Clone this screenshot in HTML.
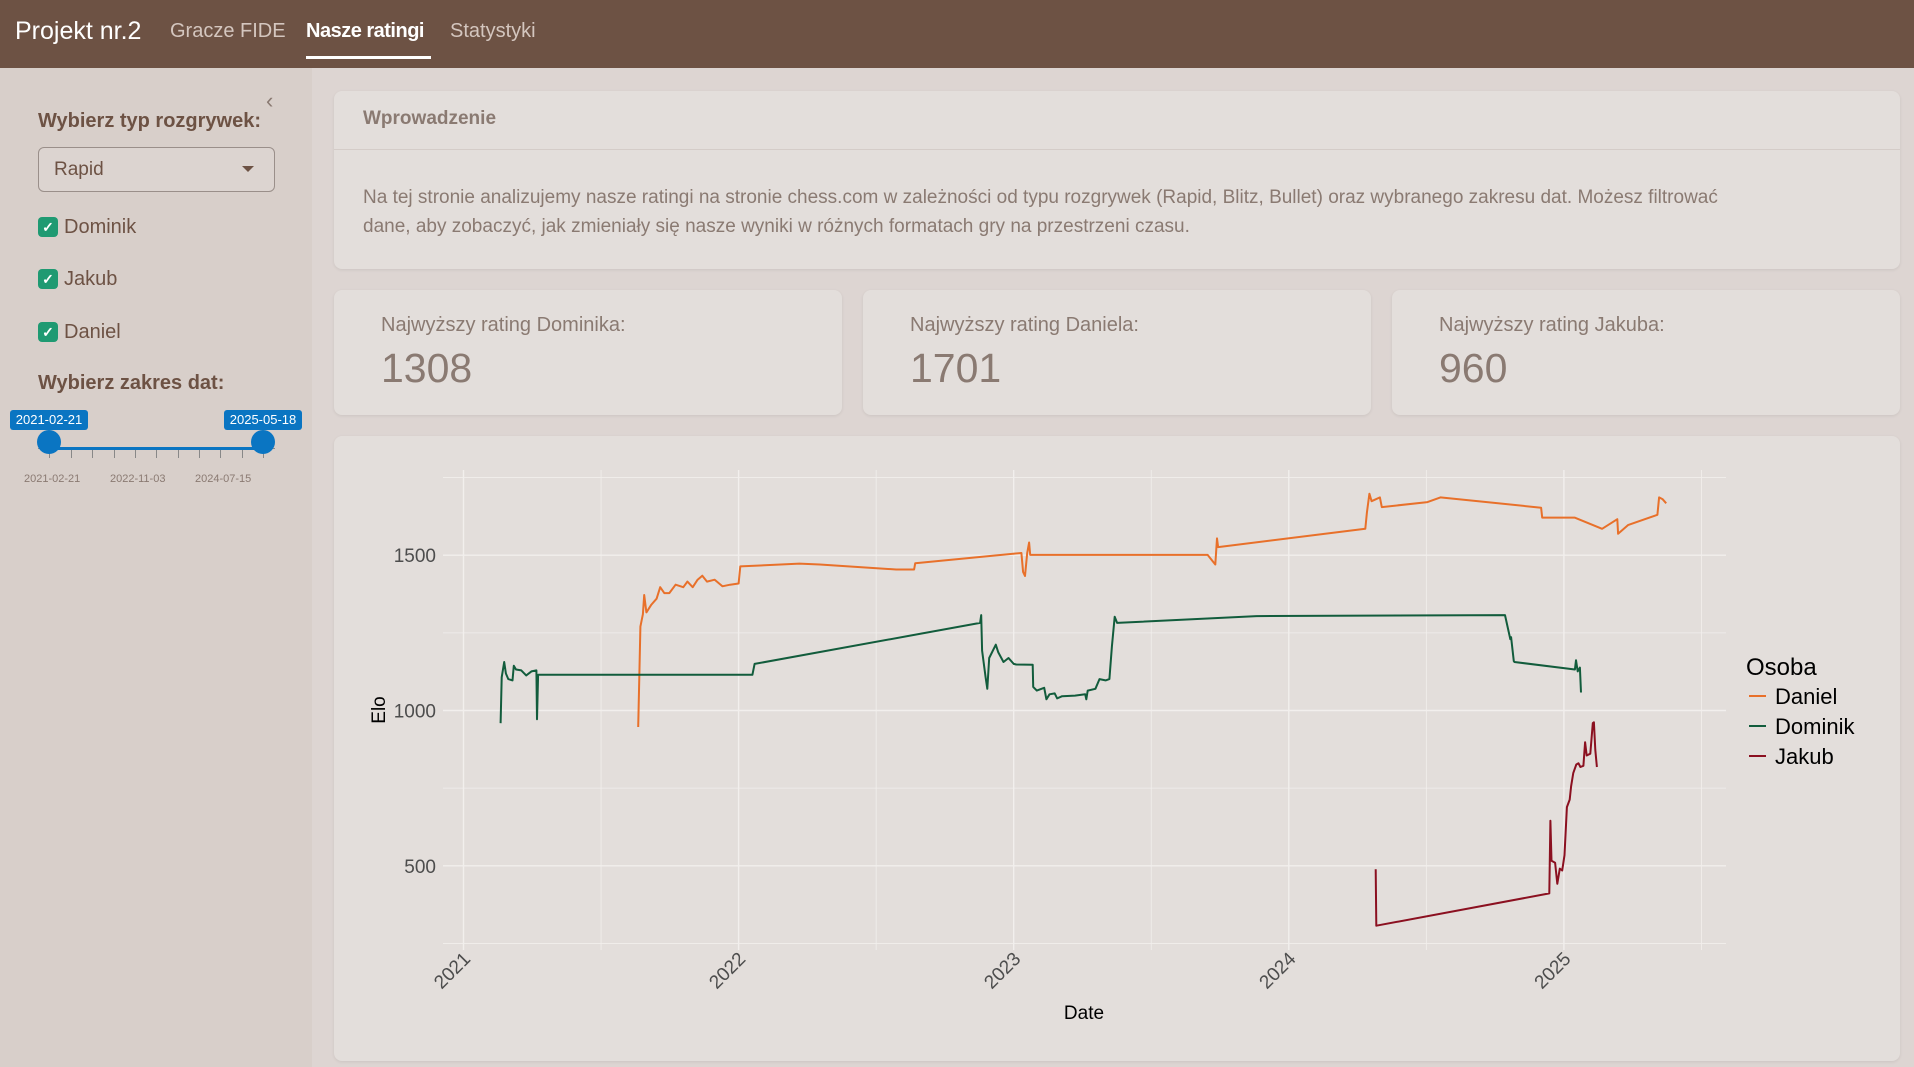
<!DOCTYPE html>
<html><head><meta charset="utf-8">
<style>
*{box-sizing:border-box;margin:0;padding:0}
body{width:1914px;height:1067px;overflow:hidden;background:#ddd5d2;font-family:"Liberation Sans",sans-serif;position:relative}
.nav{position:absolute;left:0;top:0;width:1914px;height:68px;background:#6d5244}
.nav span{position:absolute;top:20px;font-size:20px;color:#d4c6bf}
.side{position:absolute;left:0;top:68px;width:312px;height:999px;background:#d8cfca}
.card{position:absolute;background:#e3dedb;border-radius:8px;box-shadow:0 1px 3px rgba(0,0,0,.08)}
.lbl{position:absolute;color:#6d5244;font-size:20px}
.cb{position:absolute;left:38px;width:20px;height:20px;background:#1f9a72;border-radius:4px;color:#fff;font-size:14px;text-align:center;line-height:20px;font-weight:bold}
.vb-l{position:absolute;left:47px;top:24px;font-size:20px;color:#8a7a72}
.vb-v{position:absolute;left:47px;top:55px;font-size:41px;color:#8a7a72}
.tk{position:absolute;top:42px;width:1px;height:8px;background:#888}
</style></head><body>
<div class="nav">
<span style="left:15px;top:17px;font-size:25px;color:#fff">Projekt nr.2</span>
<span style="left:170px">Gracze FIDE</span>
<span style="left:306px;color:#fff;font-weight:bold;letter-spacing:-0.5px">Nasze ratingi</span>
<div style="position:absolute;left:306px;top:56px;width:125px;height:3px;background:#fff"></div>
<span style="left:450px">Statystyki</span>
</div>
<div class="side">
<div style="position:absolute;left:266px;top:20px;font-size:22px;color:#8a7a72">&#8249;</div>
<div class="lbl" style="left:38px;top:42px;font-weight:bold">Wybierz typ rozgrywek:</div>
<div style="position:absolute;left:38px;top:79px;width:237px;height:45px;border:1px solid #9a8f8a;border-radius:6px;background:#dcd4d0">
<span style="position:absolute;left:15px;top:11px;font-size:19px;color:#6d5244">Rapid</span>
<span style="position:absolute;right:20px;top:18px;border-left:6px solid transparent;border-right:6px solid transparent;border-top:6px solid #6d5244"></span></div>
<div class="cb" style="top:149px">&#10003;</div>
<div class="lbl" style="left:64px;top:148px">Dominik</div>
<div class="cb" style="top:201px">&#10003;</div>
<div class="lbl" style="left:64px;top:200px">Jakub</div>
<div class="cb" style="top:254px">&#10003;</div>
<div class="lbl" style="left:64px;top:253px">Daniel</div>
<div class="lbl" style="left:38px;top:304px;font-weight:bold">Wybierz zakres dat:</div>
<div style="position:absolute;left:0;top:340px;width:312px;height:60px">
<div style="position:absolute;left:38px;top:40px;width:237px;height:1px;background:#888"></div>
<div class="tk" style="left:49px"></div><div class="tk" style="left:71px"></div><div class="tk" style="left:92px"></div><div class="tk" style="left:114px"></div><div class="tk" style="left:135px"></div><div class="tk" style="left:156px"></div><div class="tk" style="left:178px"></div><div class="tk" style="left:199px"></div><div class="tk" style="left:220px"></div><div class="tk" style="left:242px"></div><div class="tk" style="left:263px"></div>
<div style="position:absolute;left:49px;top:39px;width:214px;height:3px;background:#0a75c2"></div>
<div style="position:absolute;left:10px;top:2px;width:78px;height:20px;background:#0a75c2;border-radius:3px;color:#fff;font-size:13px;text-align:center;line-height:20px">2021-02-21</div>
<div style="position:absolute;left:224px;top:2px;width:78px;height:20px;background:#0a75c2;border-radius:3px;color:#fff;font-size:13px;text-align:center;line-height:20px">2025-05-18</div>
<div style="position:absolute;left:37px;top:22px;width:24px;height:24px;border-radius:50%;background:#0a75c2"></div>
<div style="position:absolute;left:251px;top:22px;width:24px;height:24px;border-radius:50%;background:#0a75c2"></div>
<div style="position:absolute;left:24px;top:65px;font-size:11px;color:#8a7a72">2021-02-21</div>
<div style="position:absolute;left:110px;top:65px;font-size:11px;color:#8a7a72">2022-11-03</div>
<div style="position:absolute;left:195px;top:65px;font-size:11px;color:#8a7a72">2024-07-15</div>
</div>
</div>
<div class="card" style="left:334px;top:91px;width:1566px;height:178px">
<div style="position:absolute;left:29px;top:17px;font-size:19px;color:#8a7a72;font-weight:bold">Wprowadzenie</div>
<div style="position:absolute;left:0;top:58px;width:100%;height:1px;background:#d4ccc8"></div>
<div style="position:absolute;left:29px;top:92px;width:1380px;font-size:19px;line-height:29px;color:#8a7a72">Na tej stronie analizujemy nasze ratingi na stronie chess.com w zależności od typu rozgrywek (Rapid, Blitz, Bullet) oraz wybranego zakresu dat. Możesz filtrować dane, aby zobaczyć, jak zmieniały się nasze wyniki w różnych formatach gry na przestrzeni czasu.</div>
</div>
<div class="card" style="left:334px;top:290px;width:508px;height:125px"><div class="vb-l">Najwyższy rating Dominika:</div><div class="vb-v">1308</div></div>
<div class="card" style="left:863px;top:290px;width:508px;height:125px"><div class="vb-l">Najwyższy rating Daniela:</div><div class="vb-v">1701</div></div>
<div class="card" style="left:1392px;top:290px;width:508px;height:125px"><div class="vb-l">Najwyższy rating Jakuba:</div><div class="vb-v">960</div></div>
<div class="card" style="left:334px;top:436px;width:1566px;height:625px"></div>
<svg id="chart" width="1914" height="1067" style="position:absolute;left:0;top:0" font-family="Liberation Sans, sans-serif"></svg>
<script>
const yearTicks=[2021,2022,2023,2024,2025];
const eloTicks=[500,1000,1500];
const seriesNames=["Daniel","Dominik","Jakub"];
const seriesColors=["#e8702a","#125c3c","#8b1020"];
const danielT=[2021.635,2021.639,2021.643,2021.652,2021.657,2021.665,2021.683,2021.702,2021.715,2021.730,2021.748,2021.771,2021.799,2021.814,2021.833,2021.851,2021.868,2021.885,2021.913,2021.941,2021.969,2022.0,2022.006,2022.221,2022.295,2022.573,2022.638,2022.642,2023.028,2023.034,2023.041,2023.049,2023.056,2023.060,2023.705,2023.733,2023.739,2023.743,2024.278,2024.284,2024.293,2024.301,2024.316,2024.331,2024.338,2024.504,2024.551,2024.917,2024.921,2025.039,2025.139,2025.194,2025.197,2025.233,2025.340,2025.346,2025.359,2025.372];
const danielV=[947,1107,1270,1310,1372,1316,1341,1360,1397,1378,1378,1405,1397,1415,1397,1421,1434,1415,1421,1400,1405,1409,1464,1473,1470,1454,1454,1474,1507,1446,1433,1507,1541,1501,1501,1470,1554,1526,1585,1637,1698,1674,1680,1686,1655,1671,1686,1653,1621,1621,1585,1616,1569,1597,1630,1686,1680,1667];
const dominikT=[2021.135,2021.139,2021.148,2021.154,2021.163,2021.178,2021.183,2021.191,2021.210,2021.228,2021.247,2021.265,2021.267,2021.271,2022.050,2022.058,2022.878,2022.882,2022.885,2022.898,2022.904,2022.911,2022.935,2022.944,2022.963,2022.981,2023.0,2023.009,2023.069,2023.071,2023.084,2023.111,2023.119,2023.130,2023.149,2023.158,2023.176,2023.223,2023.260,2023.264,2023.269,2023.297,2023.312,2023.334,2023.348,2023.357,2023.367,2023.376,2023.883,2024.786,2024.805,2024.808,2024.818,2024.820,2025.040,2025.044,2025.050,2025.058,2025.062];
const dominikV=[959,1107,1156,1119,1101,1097,1144,1132,1129,1113,1126,1129,972,1115,1115,1150,1282,1307,1193,1107,1070,1169,1212,1187,1156,1169,1150,1148,1147,1076,1064,1073,1036,1052,1055,1039,1046,1048,1052,1036,1064,1070,1101,1097,1101,1206,1302,1282,1304,1307,1230,1236,1159,1156,1132,1162,1126,1138,1058];
const jakubT=[2024.316,2024.318,2024.947,2024.951,2024.955,2024.968,2024.976,2024.985,2024.994,2025.002,2025.011,2025.021,2025.026,2025.034,2025.045,2025.053,2025.060,2025.071,2025.077,2025.083,2025.096,2025.105,2025.109,2025.114,2025.120];
const jakubV=[489,307,411,645,516,510,442,491,485,534,689,713,756,799,826,830,818,822,898,855,861,959,962,873,818];
const svg=document.getElementById('chart');
const NS='http://www.w3.org/2000/svg';
function X(t){return 463.5+(t-2021)*275.1;}
function Y(v){return 710.5-(v-1000)*0.3106;}
function mk(tag,attrs){const e=document.createElementNS(NS,tag);for(const k in attrs)e.setAttribute(k,attrs[k]);svg.appendChild(e);return e;}
const x0=443,x1=1726,y0=470,y1=950;
for(let v=250;v<=1750;v+=250){const g=mk('line',{x1:x0,x2:x1,y1:Y(v),y2:Y(v),stroke:'#f2efed','stroke-width':v%500===0?1.4:0.8});

}
for(let t=2021;t<=2025.5;t+=0.5){const g=mk('line',{x1:X(t),x2:X(t),y1:y0,y2:y1,stroke:'#f2efed','stroke-width':t%1===0?1.4:0.8});

}
eloTicks.forEach(v=>{const t=mk('text',{x:436,y:Y(v)+7,'text-anchor':'end','font-size':19,fill:'#4d4d4d'});t.textContent=v;

});
yearTicks.forEach(yr=>{const xx=X(yr);const t=mk('text',{x:xx+8,y:960,'text-anchor':'end','font-size':19,fill:'#4d4d4d',transform:`rotate(-45 ${xx+8} 960)`});t.textContent=yr;

});
const xt=mk('text',{x:1084,y:1019,'text-anchor':'middle','font-size':19,fill:'#000'});xt.textContent='Date';


const yt=mk('text',{x:385,y:710,'text-anchor':'middle','font-size':19,fill:'#000',transform:'rotate(-90 385 710)'});yt.textContent='Elo';


const all=[[danielT,danielV],[dominikT,dominikV],[jakubT,jakubV]];
all.forEach((s,i)=>{const d=s[0].map((t,j)=>(j?'L':'M')+X(t).toFixed(1)+' '+Y(s[1][j]).toFixed(1)).join(' ');
const p=mk('path',{d:d,fill:'none',stroke:seriesColors[i],'stroke-width':2,'stroke-linejoin':'round'});

});
const lt=mk('text',{x:1746,y:675,'font-size':24,fill:'#000'});lt.textContent='Osoba';


seriesNames.forEach((n,i)=>{const yy=696+i*30;
const l=mk('line',{x1:1749,x2:1766,y1:yy,y2:yy,stroke:seriesColors[i],'stroke-width':2});


const t=mk('text',{x:1775,y:yy+8,'font-size':22,fill:'#000'});t.textContent=n;

});
</script>
</body></html>
